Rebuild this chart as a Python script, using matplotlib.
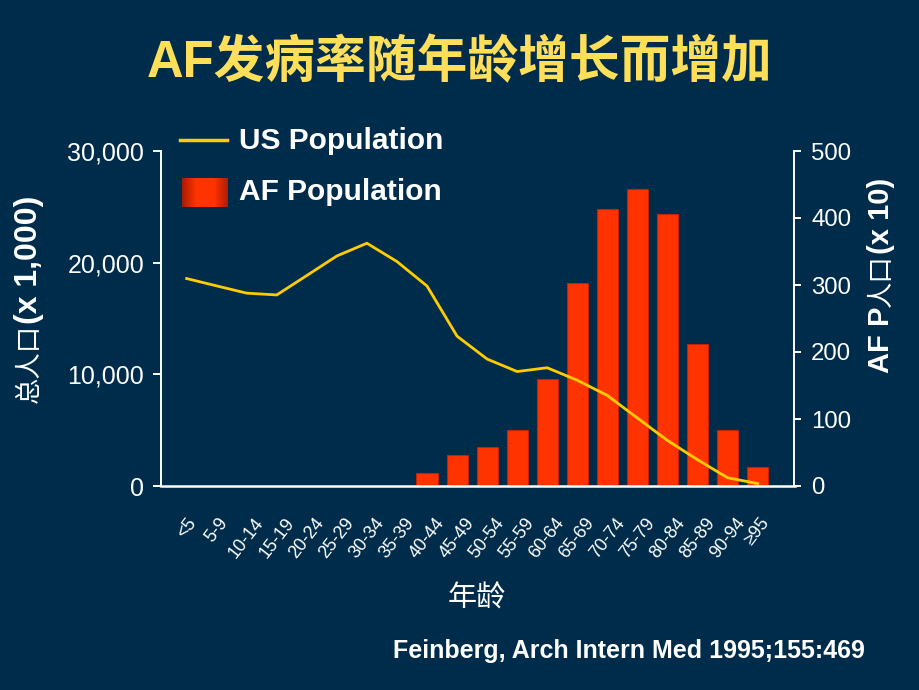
import matplotlib
matplotlib.use('Agg')
import matplotlib.pyplot as plt
import numpy as np
from matplotlib.lines import Line2D
from matplotlib.colors import LinearSegmentedColormap

# ---------------- data ----------------
age_groups = ['<5', '5-9', '10-14', '15-19', '20-24', '25-29', '30-34', '35-39',
              '40-44', '45-49', '50-54', '55-59', '60-64', '65-69', '70-74',
              '75-79', '80-84', '85-89', '90-94', '≥95']
us_population = [18580, 17920, 17270, 17110, 18850, 20600, 21740, 20100,
                 17910, 13420, 11370, 10250, 10590, 9470, 8110, 6090,
                 4080, 2360, 740, 220]          # x 1,000
af_groups = ['40-44', '45-49', '50-54', '55-59', '60-64', '65-69', '70-74',
             '75-79', '80-84', '85-89', '90-94', '≥95']
af_population = [19, 46, 58, 84, 160, 303, 413, 444, 406, 212, 83, 28]   # x 10
left_ticks = [0, 10000, 20000, 30000]
left_tick_labels = ['0', '10,000', '20,000', '30,000']
right_ticks = [0, 100, 200, 300, 400, 500]
right_tick_labels = ['0', '100', '200', '300', '400', '500']

title_text = 'AF发病率随年龄增长而增加'
left_label_parts = ['总人口', '(x 1,000)']
right_label_parts = ['AF P', '人口', '(x 10)']
x_label = '年龄'
legend_labels = ['US Population', 'AF Population']
source_text = 'Feinberg, Arch Intern Med 1995;155:469'

# ---------------- style ----------------
BG = '#002C4B'
LINE_C = '#FFCC00'
BAR_C = '#FF3300'
TITLE_C = '#FFDE5A'
FAM = ['Liberation Sans', 'Noto Sans CJK SC', 'DejaVu Sans']
plt.rcParams['font.family'] = FAM

W, H = 920, 690
fig = plt.figure(figsize=(W / 100, H / 100), dpi=100, facecolor=BG)


def fx(px):
    return px / W


def fy(py):
    return 1 - py / H


L, R, T, B = 160.7, 794.5, 151, 486
ax2 = fig.add_axes([fx(L), fy(B), fx(R - L), (B - T) / H])   # bars, right scale
ax = fig.add_axes(ax2.get_position(), sharex=ax2)            # line, left scale
ax.set_zorder(ax2.get_zorder() + 1)
ax.patch.set_visible(False)
ax2.set_facecolor(BG)

x_all = np.arange(len(age_groups))
x_af = np.array([age_groups.index(g) for g in af_groups])

# bars on right scale
ax2.bar(x_af, af_population, width=0.7, color=BAR_C, edgecolor='#C42200',
        linewidth=0.8, zorder=2)
ax2.set_ylim(0, 500)
ax2.yaxis.tick_right()
ax2.set_yticks(right_ticks)
ax2.set_yticklabels(right_tick_labels)

# line on left scale
ax.plot(x_all, us_population, color=LINE_C, linewidth=2.0, zorder=3)
ax.set_ylim(0, 30000)
ax.set_yticks(left_ticks)
ax.set_yticklabels(left_tick_labels)
ax.set_xlim(-0.862, 20.23)
ax.set_xticks(x_all)
ax.set_xticklabels(age_groups, rotation=52, ha='center', fontsize=13,
                   color='white')
ax.tick_params(axis='x', length=0, pad=20.5)
ax2.tick_params(axis='x', bottom=False, labelbottom=False)

ax.tick_params(axis='y', colors='white', length=6, width=1.4, direction='out',
               labelsize=18, pad=6)
ax2.tick_params(axis='y', colors='white', length=5, width=1.4, direction='out',
                labelsize=17.3, pad=7, left=False, labelleft=False,
                right=True, labelright=True)

for s in ['top', 'right']:
    ax.spines[s].set_visible(False)
for s in ['top', 'left', 'bottom']:
    ax2.spines[s].set_visible(False)
ax.spines['left'].set_color('white')
ax.spines['left'].set_linewidth(1.4)
ax.spines['bottom'].set_color('white')
ax.spines['bottom'].set_linewidth(1.8)
ax2.spines['right'].set_color('white')
ax2.spines['right'].set_linewidth(1.4)

ax.set_xlabel(x_label, color='white', fontsize=21, ha='center', va='center')
ax.xaxis.set_label_coords((477 - L) / (R - L), (B - 599) / (B - T))

# vertical axis titles (bold latin, regular CJK), stacked bottom-to-top
renderer = fig.canvas.get_renderer()


def stacked_vertical(x_base, y_bottom, parts, styles):
    y = y_bottom
    for txt, (size, weight) in zip(parts, styles):
        t = fig.text(fx(x_base), fy(y), txt, rotation=90, rotation_mode='anchor',
                     ha='left', va='baseline', color='white', fontsize=size,
                     fontweight=weight)
        bb = t.get_window_extent(renderer)
        y -= bb.height


stacked_vertical(37, 403, left_label_parts, [(19, 'normal'), (23, 'bold')])
stacked_vertical(889, 373, right_label_parts,
                 [(21, 'bold'), (19, 'normal'), (21, 'bold')])

# title and source
fig.text(fx(459.5), fy(63), title_text, color=TITLE_C, fontsize=36.5,
         fontweight='bold', ha='center', va='center')
fig.text(fx(865), fy(651), source_text, color='white', fontsize=18,
         fontweight='bold', ha='right', va='center')

# legend (drawn manually)
fig.add_artist(Line2D([fx(180), fx(226.7)], [fy(140), fy(140)],
                      color=LINE_C, linewidth=2.5, transform=fig.transFigure))
grad_cmap = LinearSegmentedColormap.from_list(
    'g', [(0, '#A81C00'), (0.3, '#FF3300'), (0.7, '#FF3300'), (1, '#B01E00')])
lax = fig.add_axes([fx(181.7), fy(207.3), fx(227.3 - 181.7), (207.3 - 178.3) / H])
lax.imshow(np.linspace(0, 1, 64).reshape(1, -1), aspect='auto', cmap=grad_cmap,
           extent=[0, 1, 0, 1])
lax.set_axis_off()
fig.text(fx(239.3), fy(141), legend_labels[0], color='white', fontsize=21.5,
         fontweight='bold', ha='left', va='center')
fig.text(fx(239.3), fy(192.5), legend_labels[1], color='white', fontsize=21.5,
         fontweight='bold', ha='left', va='center')

fig.savefig('out.png', dpi=100, facecolor=BG)
